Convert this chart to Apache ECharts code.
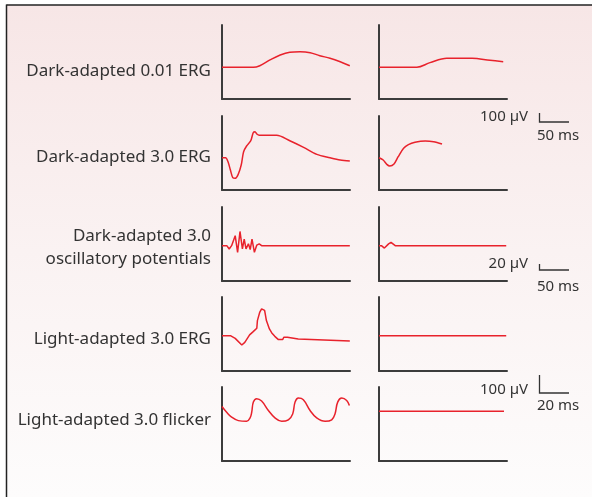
<!DOCTYPE html>
<html>
<head>
<meta charset="utf-8">
<script src="https://cdn.jsdelivr.net/npm/echarts@6/dist/echarts.min.js"></script>
<style>
html,body{margin:0;padding:0;background:#fff;}
#chart{width:592px;height:497px;}
</style>
</head>
<body>
<div id="chart"></div>
<script>
// Row labels
const rowLabels = [
  ["Dark-adapted 0.01 ERG"],
  ["Dark-adapted 3.0 ERG"],
  ["Dark-adapted 3.0", "oscillatory potentials"],
  ["Light-adapted 3.0 ERG"],
  ["Light-adapted 3.0 flicker"]
];
// Scale bar labels
const scaleAmp = ["100 µV", "20 µV", "100 µV"];
const scaleTime = ["50 ms", "50 ms", "20 ms"];

// Time window (ms) and amplitude window (µV) per row
const timeSpan = [213.3, 213.3, 213.3, 213.3, 85.3];
const ampMin = [-365, -371, -117, -195, -274];
const ampMax = [486, 480, 128, 213, 133];

// Traces: [time ms, amplitude µV]
const da001Left = [[0,0],[52,0],[63,18],[80,84],[97,141],[113,173],[130,179],[147,168],[163,133],[180,104],[197,64],[213,18]];
const da001Right = [[0,0],[63,0],[85,53],[113,104],[155,104],[185,80],[207,64]];
const da30Left = [[0,0],[6,0],[10,-46],[14,-141],[18,-230],[22,-237],[27,-191],[32,-84],[36,69],[41,135],[48,196],[52,288],[55,299],[58,273],[62,258],[91,258],[113,196],[136,120],[158,39],[180,0],[197,-26],[213,-38]];
const da30Right = [[0,0],[7,-26],[13,-76],[18,-95],[25,-72],[32,12],[41,108],[49,150],[60,177],[77,192],[91,184],[105,158]];
const opsLeft = [[0,0],[8,0],[12,-11],[16,0],[22,33],[26,-22],[30,47],[34,-11],[37,22],[40,-11],[44,6],[47,-13],[50,22],[54,-22],[58,2],[62,6],[66,0],[69,6],[72,0],[213,0]];
const opsRight = [[0,0],[4,0],[9,-8],[16,6],[20,11],[27,0],[212,0]];
const la30Left = [[0,0],[14,0],[22,-15],[33,-52],[38,-37],[46,4],[52,22],[58,41],[59,83],[62,83],[63,130],[66,148],[69,152],[71,139],[73,133],[74,83],[77,74],[79,37],[83,15],[88,-4],[94,-22],[101,-22],[103,-9],[109,-9],[111,-19],[127,-19],[129,-30],[213,-30]];
const la30Right = [[0,0],[212,0]];
const flickerLeft = [[0,26],[3.1,-6],[6.4,-33],[10.9,-52],[16.4,-56],[18.7,-37],[19.8,-6],[20.9,50],[23.1,69],[26.4,56],[30.9,4],[35.3,-37],[39.8,-56],[44.2,-48],[47.1,-15],[48.7,50],[50.9,72],[54.2,63],[58.7,4],[63.1,-37],[68.7,-56],[73.1,-48],[75.3,-15],[77.1,50],[79.8,72],[83.1,59],[84.9,31]];
const flickerRight = [[0,0],[83.3,0]];

const traces = [
  [da001Left, da001Right],
  [da30Left, da30Right],
  [opsLeft, opsRight],
  [la30Left, la30Right],
  [flickerLeft, flickerRight]
];
const smoothRows = [0.35, 0.3, 0, 0, 0.4];

// Layout
const colLeft = [222, 379];
const panelW = 128;
const rowTop = [25, 116, 207, 297, 387];
const panelH = 74;

const axisColor = '#3c3c3c';
const traceColor = '#e8222c';
const textColor = '#333333';
const font = '"Noto Sans", sans-serif';

const grids = [], xAxes = [], yAxes = [], series = [];
let idx = 0;
for (let r = 0; r < 5; r++) {
  for (let c = 0; c < 2; c++) {
    grids.push({left: colLeft[c], top: rowTop[r], width: panelW, height: panelH});
    xAxes.push({
      type: 'value', gridIndex: idx, min: 0, max: timeSpan[r],
      axisLine: {show: true, onZero: false, lineStyle: {color: axisColor, width: 2}},
      axisTick: {show: false}, axisLabel: {show: false}, splitLine: {show: false}
    });
    yAxes.push({
      type: 'value', gridIndex: idx, min: ampMin[r], max: ampMax[r],
      axisLine: {show: true, onZero: false, lineStyle: {color: axisColor, width: 2}},
      axisTick: {show: false}, axisLabel: {show: false}, splitLine: {show: false}
    });
    series.push({
      type: 'line', xAxisIndex: idx, yAxisIndex: idx,
      data: traces[r][c], showSymbol: false, smooth: smoothRows[r],
      lineStyle: {color: traceColor, width: 1.5}, silent: true, animation: false
    });
    idx++;
  }
}

const labelY = [[71], [157], [236, 259], [339], [420]];
const graphics = [
  {type: 'rect', z: -100, shape: {x: 7, y: 5, width: 585, height: 492},
   style: {fill: {type: 'linear', x: 0, y: 0, x2: 0, y2: 1, colorStops: [
     {offset: 0, color: '#f7e6e6'}, {offset: 0.5, color: '#faf2f2'}, {offset: 1, color: '#fdfcfc'}]}}},
  {type: 'line', shape: {x1: 6.5, y1: 5, x2: 592, y2: 5}, style: {stroke: '#222', lineWidth: 1.5}},
  {type: 'line', shape: {x1: 6.5, y1: 4.5, x2: 6.5, y2: 497}, style: {stroke: '#222', lineWidth: 1.5}}
];
rowLabels.forEach((lines, r) => {
  lines.forEach((t, i) => {
    graphics.push({type: 'text', x: 211, y: labelY[r][i],
      style: {text: t, fill: textColor, font: '17px ' + font, textAlign: 'right', textVerticalAlign: 'middle'}});
  });
});
// Scale bars
const barTop = [113, 264, 375];
const barBottom = [122, 270, 393];
const ampTextY = [117, 264, 390];
const timeTextY = [136, 287, 406];
for (let i = 0; i < 3; i++) {
  graphics.push({type: 'polyline', shape: {points: [[539.5, barTop[i]], [539.5, barBottom[i]], [569, barBottom[i]]]},
    style: {stroke: '#333', lineWidth: 1.3, fill: null}});
  graphics.push({type: 'text', x: 528, y: ampTextY[i],
    style: {text: scaleAmp[i], fill: textColor, font: '15px ' + font, textAlign: 'right', textVerticalAlign: 'middle'}});
  graphics.push({type: 'text', x: 537, y: timeTextY[i],
    style: {text: scaleTime[i], fill: textColor, font: '15px ' + font, textAlign: 'left', textVerticalAlign: 'middle'}});
}

const chart = echarts.init(document.getElementById('chart'), null, {renderer: 'canvas'});
chart.setOption({
  animation: false,
  grid: grids, xAxis: xAxes, yAxis: yAxes, series: series,
  graphic: graphics
});
</script>
</body>
</html>
